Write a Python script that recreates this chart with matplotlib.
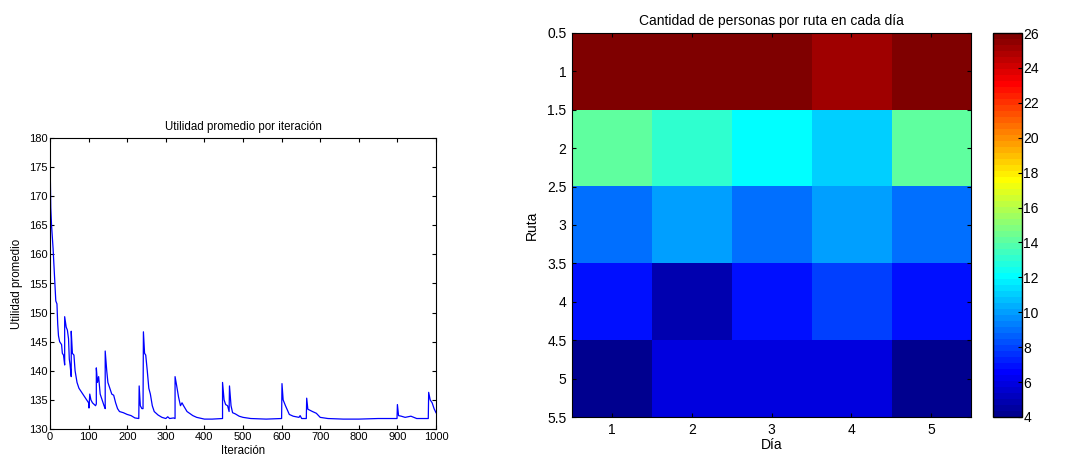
import numpy as np
import matplotlib
matplotlib.use('Agg')
import matplotlib.pyplot as plt
from matplotlib.colors import ListedColormap

plt.rcParams['font.family'] = ['Liberation Sans', 'DejaVu Sans']

# puntos (iteracion, utilidad promedio)
iteraciones = [0, 2, 4, 8, 12, 15, 18, 20, 22, 25, 30, 32, 35, 38,
               38, 42, 45, 48, 50, 52, 55,
               55, 58, 62, 65, 70, 75, 80, 85, 90, 95, 100, 101, 103, 106, 110, 115, 118, 120,
               120, 123, 126, 130, 135, 140, 143,
               143, 147, 150, 155, 160, 165, 170, 175, 180, 190, 200, 210, 220, 230,
               231, 234, 238, 241,
               242, 245, 248, 252, 256, 260, 265, 270, 280, 290, 300, 305, 310, 320, 324,
               324, 328, 333, 338, 342, 346, 355, 370, 380, 400, 420, 447,
               447, 451, 455, 460, 464,
               465, 469, 473, 480, 490, 500, 520, 560, 600,
               601, 604, 610, 620, 630, 645, 648, 652, 664,
               665, 668, 680, 690, 700, 720, 760, 800, 850, 899,
               900, 903, 910, 920, 935, 950, 980,
               981, 985, 990, 995, 1000]
utilidad = [177, 168, 165, 161, 156, 152, 151.5, 148, 146, 145, 144.5, 143, 142.7, 141,
            149.3, 147.5, 147, 145.5, 142, 141, 139,
            146.8, 143, 142.7, 140, 138, 137, 136.5, 136, 135.5, 135, 134.5, 133.6, 136, 135, 134.5, 134.2, 134, 134.3,
            140.5, 138, 139, 136, 135, 134, 133.5,
            143.4, 140, 138, 137, 136, 135.8, 134.5, 133.5, 133, 132.8, 132.5, 132.3, 131.9, 131.8,
            137.4, 134, 133.5, 133.5,
            146.7, 143, 142.7, 140, 137, 136, 134, 133, 132.4, 132, 131.8, 132.1, 131.8, 131.9, 131.8,
            139, 137.5, 135.5, 134, 134.5, 134, 133, 132.3, 132, 131.7, 131.7, 131.8,
            138, 135, 134.2, 134, 133,
            137.4, 134, 132.8, 132.6, 132.2, 132, 131.8, 131.7, 131.8,
            137.8, 135, 134, 132.5, 132.2, 132, 132.3, 131.8, 131.8,
            135.3, 133.4, 133, 132.7, 132, 131.8, 131.7, 131.7, 131.8, 131.8,
            134.2, 132.3, 132.2, 132, 132.2, 131.8, 131.8,
            136.3, 135, 134.5, 133.5, 132.8]

# personas por ruta (filas) en cada dia (columnas)
dias = [1, 2, 3, 4, 5]
rutas = [1, 2, 3, 4, 5]
personas = np.array([
    [26, 26, 26, 25, 26],
    [14, 13, 12, 11, 14],
    [9, 10, 9, 10, 9],
    [7, 5, 7, 8, 7],
    [4, 6, 6, 6, 4],
])


def matlab_jet(n=64):
    # mismo esquema que jet(n) de MATLAB
    m = int(np.ceil(n / 4.0))
    u = np.concatenate([np.arange(1, m + 1) / m, np.ones(m - 1), np.arange(m, 0, -1) / m])
    g = int(np.ceil(m / 2.0)) - (1 if n % 4 == 1 else 0) + np.arange(1, len(u) + 1)
    r = g + m
    b = g - m
    J = np.zeros((n, 3))
    for col, idx in ((0, r), (1, g), (2, b)):
        ok = (idx >= 1) & (idx <= n)
        J[idx[ok] - 1, col] = u[ok]
    return ListedColormap(J)


fig = plt.figure(figsize=(10.78, 4.57), dpi=100)
W, H = 1078.0, 457.0

# --- izquierda: utilidad promedio ---
ax1 = fig.add_axes([50 / W, 1 - 429 / H, 386 / W, 291 / H])
ax1.plot(iteraciones, utilidad, color='#0000ff', lw=0.9)
ax1.set_xlim(0, 1000)
ax1.set_ylim(130, 180)
ax1.set_xticks(np.arange(0, 1001, 100))
ax1.set_yticks(np.arange(130, 181, 5))
ax1.tick_params(direction='in', top=True, right=True, labelsize=8, length=3, pad=2)
ax1.set_title('Utilidad promedio por iteración', fontsize=8.3, pad=6)
ax1.set_xlabel('Iteración', fontsize=8.3, labelpad=2)
ax1.set_ylabel('Utilidad promedio', fontsize=8.3, labelpad=4)

# --- derecha: mapa de calor ---
ax2 = fig.add_axes([572 / W, 1 - 417 / H, 399 / W, 384 / H])
im = ax2.imshow(personas, cmap=matlab_jet(64), vmin=4, vmax=26, aspect='auto',
                extent=[0.5, 5.5, 5.5, 0.5], interpolation='nearest')
ax2.set_xticks(dias)
ax2.set_yticks(np.arange(0.5, 5.51, 0.5))
ax2.set_yticklabels(['0.5', '1', '1.5', '2', '2.5', '3', '3.5', '4', '4.5', '5', '5.5'])
ax2.tick_params(direction='in', top=True, right=True, labelsize=10, length=3, pad=4)
ax2.set_title('Cantidad de personas por ruta en cada día', fontsize=10, pad=6)
ax2.set_xlabel('Día', fontsize=10, labelpad=1)
ax2.set_ylabel('Ruta', fontsize=10, labelpad=6)

cax = fig.add_axes([993 / W, 1 - 417 / H, 29 / W, 384 / H])
cb = fig.colorbar(im, cax=cax, ticks=np.arange(4, 27, 2))
cb.ax.tick_params(direction='in', labelsize=10, length=3, pad=1)
cb.outline.set_linewidth(1.0)

fig.savefig('out.png', dpi=100)
